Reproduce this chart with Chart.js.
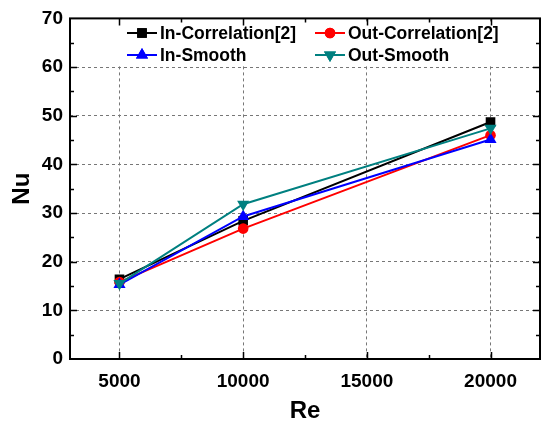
<!DOCTYPE html>
<html>
<head>
<meta charset="utf-8">
<script src="https://cdn.jsdelivr.net/npm/chart.js@4/dist/chart.umd.min.js"></script>
<style>
  html, body { margin: 0; padding: 0; background: #fff; }
  #wrap { width: 547px; height: 428px; }
</style>
</head>
<body>
<div id="wrap"><canvas id="grafico"></canvas></div>
<script>
var RE = [5000, 10000, 20000];
var IN_CORR = [16.4, 28.4, 48.7];
var OUT_CORR = [15.8, 26.8, 46.0];
var IN_SMOOTH = [15.3, 29.3, 45.1];
var OUT_SMOOTH = [15.5, 31.8, 47.4];
var X_TICKS = [5000, 10000, 15000, 20000];
var NOMES = ['In-Correlation[2]', 'Out-Correlation[2]', 'In-Smooth', 'Out-Smooth'];

var FONTE = '"Liberation Sans", Arial, sans-serif';
var Cores = { 'preto': '#000000', 'vermelho': '#ff0000', 'azul': '#0000ff', 'ciano': '#008080' };

function pontos(ys) {
    return RE.map(function (x, i) { return { x: x, y: ys[i] }; });
}

function serie(nome, ys, cor, estilo, raio, rot, ordem) {
    return {
        label: nome,
        data: pontos(ys),
        showLine: true,
        borderColor: cor,
        backgroundColor: cor,
        borderWidth: 2,
        pointStyle: estilo,
        pointRadius: raio,
        pointRotation: rot,
        pointBorderWidth: 0,
        order: ordem
    };
}

// legenda em duas colunas dentro da area do grafico
var legendaInterna = {
    id: 'legendaInterna',
    beforeDatasetsDraw: function (chart) {
        var ctx = chart.ctx;
        ctx.save();
        ctx.fillStyle = '#fff';
        ctx.fillRect(90, 24, 426, 40);
        var cols = [127, 315];
        var rows = [33, 55];
        chart.data.datasets.forEach(function (ds, i) {
            var x = cols[i % 2], y = rows[Math.floor(i / 2)];
            ctx.strokeStyle = ds.borderColor;
            ctx.lineWidth = 2;
            ctx.beginPath();
            ctx.moveTo(x, y);
            ctx.lineTo(x + 30, y);
            ctx.stroke();
            ctx.fillStyle = ds.backgroundColor;
            Chart.helpers.drawPoint(ctx, { pointStyle: ds.pointStyle, radius: ds.pointRadius, rotation: ds.pointRotation, borderWidth: 0 }, x + 15, y);
            ctx.fill();
            ctx.fillStyle = '#000';
            ctx.font = 'bold 17.5px ' + FONTE;
            ctx.textBaseline = 'middle';
            ctx.fillText(ds.label, x + 33, y + 1);
        });
        ctx.restore();
    }
};

// moldura e marcas para dentro nos quatro lados
var moldura = {
    id: 'moldura',
    afterDraw: function (chart) {
        var ctx = chart.ctx, a = chart.chartArea;
        var sx = chart.scales.x, sy = chart.scales.y;
        ctx.save();
        ctx.strokeStyle = '#000';
        ctx.lineWidth = 2;
        ctx.strokeRect(a.left, a.top, a.right - a.left, a.bottom - a.top);
        ctx.lineWidth = 1.5;
        ctx.beginPath();
        for (var v = 2500; v <= 22000; v += 2500) {
            if (v < sx.min) continue;
            var px = Math.round(sx.getPixelForValue(v)) + 0.5;
            var len = (v % 5000 === 0) ? 7 : 4;
            ctx.moveTo(px, a.bottom); ctx.lineTo(px, a.bottom - len);
            ctx.moveTo(px, a.top); ctx.lineTo(px, a.top + len);
        }
        for (var w = 5; w < 70; w += 5) {
            var py = Math.round(sy.getPixelForValue(w)) + 0.5;
            var l2 = (w % 10 === 0) ? 7 : 4;
            ctx.moveTo(a.left, py); ctx.lineTo(a.left + l2, py);
            ctx.moveTo(a.right, py); ctx.lineTo(a.right - l2, py);
        }
        ctx.stroke();
        ctx.restore();
    }
};

var ctx = document.getElementById('grafico').getContext('2d');
window.grafico = new Chart(ctx, {
    type: 'scatter',
    data: {
        datasets: [
            serie(NOMES[0], IN_CORR, Cores.preto, 'rect', 6.8, 0, 4),
            serie(NOMES[1], OUT_CORR, Cores.vermelho, 'circle', 5.3, 0, 3),
            serie(NOMES[2], IN_SMOOTH, Cores.azul, 'triangle', 7, 0, 2),
            serie(NOMES[3], OUT_SMOOTH, Cores.ciano, 'triangle', 7, 180, 1)
        ]
    },
    options: {
        responsive: true,
        maintainAspectRatio: false,
        animation: false,
        layout: { padding: { left: 0, right: 6, top: 4, bottom: 1 } },
        plugins: {
            legend: { display: false },
            tooltip: { enabled: false }
        },
        scales: {
            x: {
                type: 'linear',
                min: 3000,
                max: 22000,
                afterBuildTicks: function (s) { s.ticks = X_TICKS.map(function (v) { return { value: v }; }); },
                afterFit: function (s) { s.height = 68; },
                grid: { color: '#777', lineWidth: 1, drawTicks: false },
                border: { display: false, dash: [3, 3] },
                ticks: { color: '#000', padding: 11, font: { family: FONTE, size: 19, weight: 'bold' }, callback: function (v) { return String(v); } },
                title: { display: true, text: 'Re', color: '#000', padding: { top: 0, bottom: 1 }, font: { family: FONTE, size: 24, weight: 'bold' } }
            },
            y: {
                min: 0,
                max: 70,
                afterFit: function (s) { s.width = 70; },
                ticks: { stepSize: 10, color: '#000', padding: 7, font: { family: FONTE, size: 19, weight: 'bold' } },
                grid: { color: '#777', lineWidth: 1, drawTicks: false },
                border: { display: false, dash: [3, 3] },
                title: { display: true, text: 'Nu', color: '#000', padding: { top: 8, bottom: 0 }, font: { family: FONTE, size: 24, weight: 'bold' } }
            }
        }
    },
    plugins: [legendaInterna, moldura]
});
</script>
</body>
</html>
